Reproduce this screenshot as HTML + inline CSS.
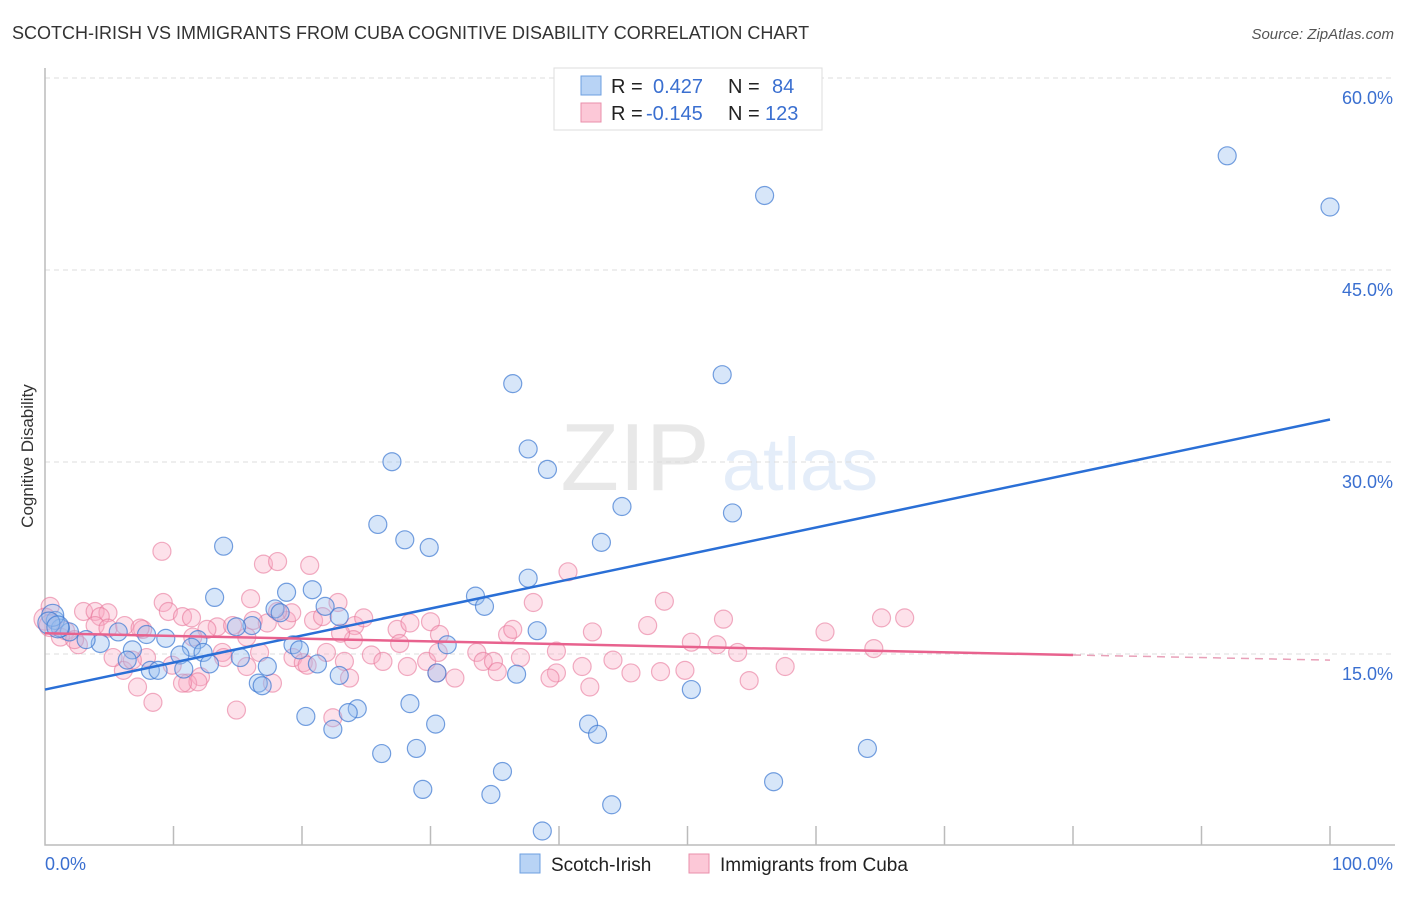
<!DOCTYPE html>
<html><head><meta charset="utf-8"><style>
body{margin:0;background:#fff;font-family:"Liberation Sans",sans-serif}
svg text{font-family:"Liberation Sans",sans-serif}
</style></head><body>
<svg id="chart" width="1406" height="892" xmlns="http://www.w3.org/2000/svg">
<text x="12" y="39" font-size="18" fill="#333">SCOTCH-IRISH VS IMMIGRANTS FROM CUBA COGNITIVE DISABILITY CORRELATION CHART</text>
<text x="1394" y="39" font-size="15" fill="#555" text-anchor="end" font-style="italic">Source: ZipAtlas.com</text>
<text transform="translate(33,456) rotate(-90)" font-size="17" fill="#333" text-anchor="middle">Cognitive Disability</text>
<g opacity="0.13"><text x="635" y="490" font-size="96" font-family="Liberation Serif" fill="#555" text-anchor="middle">ZIP</text><text x="800" y="490" font-size="74" fill="#3a7bd5" text-anchor="middle">atlas</text></g>
<g id="grid"></g><g id="axes"></g><g id="pts"></g><g id="lines"></g>
<g>
<rect x="554" y="68" width="268" height="62" fill="#fff" stroke="#ddd"/>
<rect x="581" y="76" width="20" height="19" fill="#b8d3f5" stroke="#6d9fe0"/>
<rect x="581" y="103" width="20" height="19" fill="#fcc8d7" stroke="#ea8fab"/>
<text x="611" y="93" font-size="20" fill="#222">R = </text><text x="653" y="93" font-size="20" fill="#3a6fd0">0.427</text>
<text x="728" y="93" font-size="20" fill="#222">N = </text><text x="772" y="93" font-size="20" fill="#3a6fd0">84</text>
<text x="611" y="120" font-size="20" fill="#222">R = </text><text x="646" y="120" font-size="20" fill="#3a6fd0">-0.145</text>
<text x="728" y="120" font-size="20" fill="#222">N = </text><text x="765" y="120" font-size="20" fill="#3a6fd0">123</text>
</g>
<g>
<rect x="520" y="854" width="20" height="19" fill="#b8d3f5" stroke="#6d9fe0"/>
<text x="551" y="871" font-size="19" fill="#222">Scotch-Irish</text>
<rect x="689" y="854" width="20" height="19" fill="#fcc8d7" stroke="#ea8fab"/>
<text x="720" y="871" font-size="19" fill="#222">Immigrants from Cuba</text>
</g>
</svg>
<script>
const yTicks=[15,30,45,60];
const yTickLabels=["15.0%","30.0%","45.0%","60.0%"];
const xTickLabels=["0.0%","100.0%"];
const blueX=[92.0,100,56.0,36.4,52.7,37.6,39.1,27.0,44.9,53.5,25.9,28.0,29.9,43.3,13.9,37.6,33.5,34.2,20.8,18.8,13.2,21.8,17.9,22.9,18.3,38.3,31.3,16.1,14.9,11.9,9.4,7.9,5.7,4.3,3.2,1.9,0.8,1.2,19.3,19.8,11.4,12.3,6.8,6.4,10.5,15.2,12.8,17.3,21.2,8.2,8.8,10.8,30.5,36.7,22.9,16.6,16.9,50.3,20.3,28.4,24.3,23.6,30.4,22.4,42.3,43.0,28.9,26.2,64.0,35.6,29.4,34.7,56.7,44.1,38.7,0.6,0.3,1.0];
const blueY=[54.0,50.0,50.9,36.2,36.9,31.1,29.5,30.1,26.6,26.1,25.2,24.0,23.4,23.8,23.5,21.0,19.6,18.8,20.1,19.9,19.5,18.8,18.6,18.0,18.3,16.9,15.8,17.3,17.2,16.2,16.3,16.6,16.8,15.9,16.2,16.8,17.7,17.1,15.8,15.4,15.6,15.2,15.4,14.6,15.0,14.8,14.3,14.1,14.3,13.8,13.8,13.9,13.6,13.5,13.4,12.8,12.6,12.3,10.2,11.2,10.8,10.5,9.6,9.2,9.6,8.8,7.7,7.3,7.7,5.9,4.5,4.1,5.1,3.3,1.25,18.1,17.5,17.2];
const pinkX=[9.1,17.0,18.1,20.6,16.0,9.2,9.6,10.7,11.4,3.0,3.9,4.9,4.3,22.8,20.9,21.6,24.1,24.8,27.4,28.4,30.0,30.7,27.6,33.6,34.1,34.9,35.2,36.0,36.4,28.2,29.7,30.5,31.9,30.6,25.4,26.3,23.3,23.7,22.4,21.9,19.3,20.1,20.4,24.0,23.0,18.8,19.2,18.1,17.3,16.2,15.7,16.7,15.7,17.7,14.9,13.8,13.9,13.4,14.6,12.6,12.1,11.1,11.9,10.7,9.9,8.4,7.2,7.9,6.1,5.3,6.8,2.6,1.2,0.4,7.6,11.5,40.7,38.0,48.2,52.8,65.1,66.9,60.7,46.9,42.6,50.3,52.3,64.5,53.9,39.8,44.2,41.8,45.6,47.9,49.8,57.6,54.8,42.4,39.8,39.3,37.0,0,0.4,1.6,2.3,3.9,4.9,6.2,7.4];
const pinkY=[23.1,22.1,22.3,22.0,19.4,19.1,18.4,18.0,17.9,18.4,18.4,18.3,18.0,19.1,17.7,18.0,17.3,17.9,17.0,17.5,17.6,16.6,15.9,15.2,14.5,14.5,13.7,16.6,17.0,14.1,14.5,13.6,13.2,15.2,15.0,14.5,14.5,13.2,10.1,15.2,14.8,14.4,14.2,16.2,16.7,17.7,18.3,18.4,17.5,17.7,16.4,15.2,14.1,12.8,10.7,15.2,14.8,17.2,17.3,17.0,13.3,12.8,12.9,12.8,14.2,11.3,12.5,14.8,13.8,14.8,14.6,15.8,16.4,18.8,17.0,16.4,21.5,19.1,19.2,17.8,17.9,17.9,16.8,17.3,16.8,16.0,15.8,15.5,15.2,15.3,14.6,14.1,13.6,13.7,13.8,14.1,13.0,12.5,13.6,13.2,14.8,17.8,17.3,16.9,16.2,17.3,17.1,17.3,17.1];
const blueTrend=[12.3,33.4];
const pinkTrend=[16.7,15.0,14.6];

const X0=45,X1=1330,Y0=847,YS=192/15;
const sx=v=>X0+(X1-X0)*v/100;
const sy=v=>Y0-v*YS;
const NS="http://www.w3.org/2000/svg";
function mk(tag,parent,attrs){const e=document.createElementNS(NS,tag);for(const k in attrs)e.setAttribute(k,attrs[k]);document.getElementById(parent).appendChild(e);return e;}
yTicks.forEach((t,i)=>{
  const g=mk('line','grid',{x1:45,x2:1395,y1:sy(t)-1,y2:sy(t)-1,stroke:'#ddd','stroke-dasharray':'5,4'});
  
  
  const l=mk('text','grid',{x:1393,y:sy(t)+25,'font-size':18,fill:'#3a6fd0','text-anchor':'end'});
  l.textContent=yTickLabels[i];
  
  
});
const ax=mk('path','axes',{d:'M45,68 V845 H1395',stroke:'#bbb',fill:'none','stroke-width':1.5});


for(let i=1;i<=10;i++){
  const t=mk('line','axes',{x1:sx(i*10),x2:sx(i*10),y1:826,y2:845,stroke:'#bbb','stroke-width':1.5});
  
  
}
[[0,'start',45],[100,'end',1393]].forEach((a,i)=>{
  const t=mk('text','axes',{x:a[2],y:870,'font-size':18,fill:'#3a6fd0','text-anchor':a[1]});
  t.textContent=xTickLabels[i];
  
  
});
pinkX.forEach((v,i)=>{
  const c=mk('circle','pts',{cx:sx(v),cy:sy(pinkY[i]),r:i>=101&&i<103?11:9,fill:'rgba(248,170,195,0.35)',stroke:'rgba(232,120,155,0.6)','stroke-width':1.2});
  
  
});
blueX.forEach((v,i)=>{
  const c=mk('circle','pts',{cx:sx(v),cy:sy(blueY[i]),r:i>=75?11:9,fill:'rgba(150,190,240,0.38)',stroke:'rgba(60,120,210,0.7)','stroke-width':1.2});
  
  
});
const bl=mk('line','lines',{x1:sx(0),y1:sy(blueTrend[0]),x2:sx(100),y2:sy(blueTrend[1]),stroke:'#2a6fd6','stroke-width':2.5});


const pl=mk('line','lines',{x1:sx(0),y1:sy(pinkTrend[0]),x2:sx(80),y2:sy(pinkTrend[1]),stroke:'#e8628e','stroke-width':2.5});


const pd=mk('line','lines',{x1:sx(80),y1:sy(pinkTrend[1]),x2:sx(100),y2:sy(pinkTrend[2]),stroke:'#e8a0b8','stroke-width':1.5,'stroke-dasharray':'8,6'});


</script>
</body></html>
